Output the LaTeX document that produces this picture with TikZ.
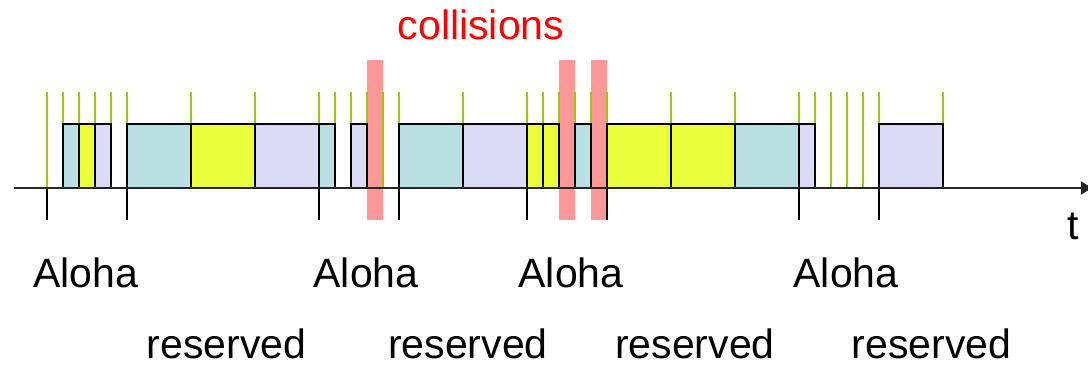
\documentclass[tikz,border=0pt]{standalone}
\usepackage{fontspec}
\setmainfont{Liberation Sans}
\usetikzlibrary{arrows.meta}
\definecolor{slotgreen}{HTML}{99CC00}
\definecolor{rescyan}{HTML}{BBE0E3}
\definecolor{resyellow}{HTML}{EAFF3C}
\definecolor{reslav}{HTML}{DADAF4}
\definecolor{collred}{HTML}{FF9999}
\begin{document}
\begin{tikzpicture}[x=1pt,y=-1pt,
  lbl/.style={font=\fontsize{41}{48}\selectfont, inner sep=0pt, anchor=base},
  slotbox/.style={draw=black, line width=1.8pt},
  greentick/.style={draw=slotgreen, line width=2.2pt},
  blacktick/.style={draw=black, line width=2pt},
  collbar/.style={fill=collred, draw=none},
  axisline/.style={draw=black!85, line width=2pt, -{Triangle[length=11pt,width=13pt]}}]
\useasboundingbox (0,0) rectangle (1088,366);
% collision bars
\foreach \k in {20,32,34}
  \fill[collbar] ({46.7+16*\k},60) rectangle ({62.7+16*\k},220);
% green slot ticks
\foreach \k in {0,1,2,3,4,5,9,13,17,18,19,20,21,22,26,30,31,32,33,34,35,39,43,47,48,49,50,51,52,56}
  \draw[greentick] ({46.7+16*\k},92) -- ({46.7+16*\k},188);
% reserved / transmission boxes
\foreach \a/\b/\c in {1/2/rescyan,2/3/resyellow,3/4/reslav,5/9/rescyan,9/13/resyellow,13/17/reslav,17/18/rescyan,19/20/reslav,22/26/rescyan,26/30/reslav,30/31/resyellow,31/32/resyellow,33/34/rescyan,35/39/resyellow,39/43/resyellow,43/47/rescyan,47/48/reslav,52/56/reslav}
  \draw[slotbox, fill=\c] ({46.7+16*\a},124) rectangle ({46.7+16*\b},188);
% black phase ticks
\foreach \k in {0,5,17,22,30,35,47,52}
  \draw[blacktick] ({46.7+16*\k},188) -- ({46.7+16*\k},220.5);
% time axis
\coordinate (axstart) at (14,188);
\coordinate (axend) at (1092,188);
\draw[axisline] (axstart) -- (axend);
% labels
\node[lbl] (tlab) at (1073,240) {t};
\node[lbl, text=red] (coll) at (481,40) {collisions};
\node[lbl] (al1) at (85.5,288) {Aloha};
\node[lbl] (al2) at (366,288) {Aloha};
\node[lbl] (al3) at (571,288) {Aloha};
\node[lbl] (al4) at (846,288) {Aloha};
\node[lbl] (re1) at (226.5,359) {reserved};
\node[lbl] (re2) at (468,359) {reserved};
\node[lbl] (re3) at (695,359) {reserved};
\node[lbl] (re4) at (931.5,359) {reserved};
\end{tikzpicture}
\end{document}
